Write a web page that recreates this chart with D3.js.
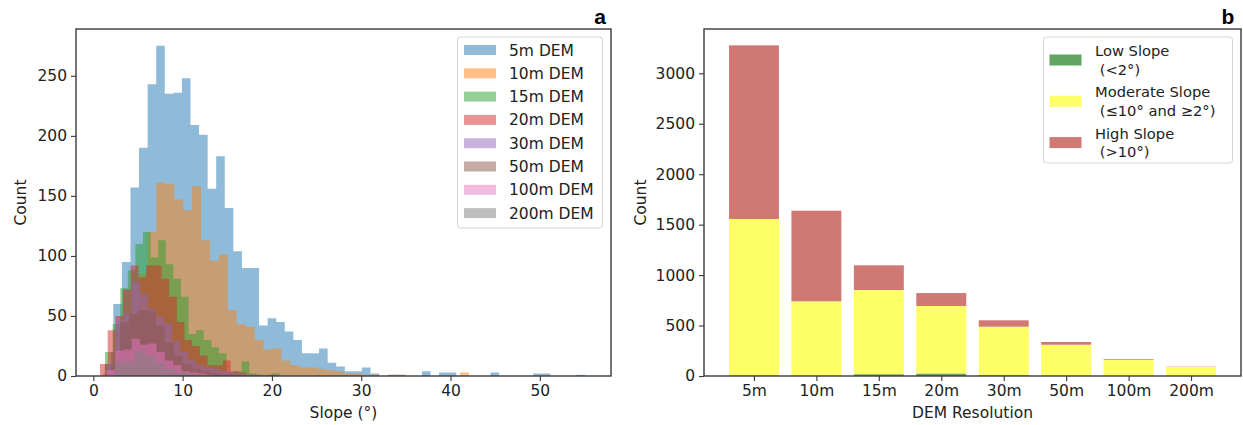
<!DOCTYPE html>
<html>
<head>
<meta charset="utf-8">
<script src="https://cdn.jsdelivr.net/npm/d3@7"></script>
<style>
  html, body { margin: 0; padding: 0; background: #fff; }
  svg { display: block; font-family: "DejaVu Sans", sans-serif; }
</style>
</head>
<body>
<svg id="chart" width="1243" height="425"></svg>
<script>
// ---------------- Data: panel a (histograms) ----------------
const histLabels = ["5m DEM", "10m DEM", "15m DEM", "20m DEM", "30m DEM", "50m DEM", "100m DEM", "200m DEM"];
const binStart = [1.28, 1.06, 1.31, 0.75, 1.64, 2.0, 1.5, 2.43];
const binWidth = [0.96, 1.0, 0.85, 0.86, 0.9, 1.0, 0.93, 1.12];
const counts5m = [10, 60, 95, 157, 190, 243, 275, 235, 236, 248, 209, 201, 156, 183, 140, 104, 90, 90, 42, 48, 45, 37, 30, 19, 19, 23, 11, 8, 4, 4, 7, 2, 0, 1, 1, 0, 0, 4, 0, 3, 3, 0, 0, 0, 0, 3, 0, 0, 0, 0, 2, 2, 0, 0, 0, 1];
const counts10m = [2, 8, 25, 50, 85, 120, 161, 160, 147, 138, 158, 113, 96, 101, 55, 43, 41, 30, 22, 23, 13, 9, 7, 7, 6, 5, 4, 2, 2, 1, 1, 0, 1, 1, 0, 0, 0, 0, 0, 0, 3];
const counts15m = [20, 43, 73, 88, 110, 120, 99, 113, 93, 81, 66, 35, 38, 30, 24, 19, 3, 4, 12, 2, 1, 1, 2];
const counts20m = [10, 38, 50, 72, 92, 82, 92, 92, 81, 66, 45, 30, 25, 17, 9, 9, 13, 4, 3, 1, 1, 0, 1];
const counts30m = [10, 46, 52, 78, 68, 56, 49, 44, 29, 20, 13, 9, 7, 6, 4, 3, 2, 1, 1];
const counts50m = [20, 45, 52, 55, 54, 42, 28, 17, 10, 6, 4, 2, 1, 1];
const counts100m = [5, 21, 22, 31, 26, 27, 20, 13, 9, 4, 3, 2, 1];
const counts200m = [12, 12, 21, 17, 11, 6, 3, 2, 1];
const histCounts = [counts5m, counts10m, counts15m, counts20m, counts30m, counts50m, counts100m, counts200m];
const histXTicks = [0, 10, 20, 30, 40, 50];
const histYTicks = [0, 50, 100, 150, 200, 250];

// ---------------- Data: panel b (stacked bars) ----------------
const resolutions = ["5m", "10m", "15m", "20m", "30m", "50m", "100m", "200m"];
const lowSlope = [5, 4, 18, 25, 8, 3, 1, 1];
const moderateSlope = [1551, 736, 834, 669, 481, 307, 160, 88];
const highSlope = [1721, 898, 245, 128, 63, 27, 7, 3];
const slopeClasses = ["low", "moderate", "high"];
const slopeLegendLines = [["Low Slope", " (<2°)"], ["Moderate Slope", " (≤10° and ≥2°)"], ["High Slope", " (>10°)"]];
const barYTicks = [0, 500, 1000, 1500, 2000, 2500, 3000];

// ---------------- Styles ----------------
const histColors = ["#1f77b4", "#ff7f0e", "#2ca02c", "#d62728", "#9467bd", "#8c564b", "#e377c2", "#7f7f7f"];
const slopeColors = { low: "#62a462", moderate: "#ffff66", high: "#d07874" };
const axisColor = "#3a3a3a";
const textColor = "#222";
const fontSize = 15.5;
const legendBFont = 14.7;

const svg = d3.select("#chart");
svg.append("rect").attr("width", 1243).attr("height", 425).attr("fill", "#fff");

function styleAxis(g) {
  g.selectAll(".domain").remove();
  g.selectAll(".tick line").attr("stroke", axisColor).attr("stroke-width", 1.1);
  g.selectAll(".tick text").attr("fill", textColor).attr("font-size", fontSize).attr("font-family", "DejaVu Sans");
}
function frame(g, x0, x1, y0, y1) {
  g.append("rect").attr("x", x0).attr("y", y0).attr("width", x1 - x0).attr("height", y1 - y0)
    .attr("fill", "none").attr("stroke", axisColor).attr("stroke-width", 1.4);
}

// ================= Panel a =================
const A = { left: 76, right: 611, top: 29, bottom: 376 };
const xA = d3.scaleLinear().domain([-1.94, 57.97]).range([A.left, A.right]);
const yA = d3.scaleLinear().domain([0, 289]).range([A.bottom, A.top]);
const gA = svg.append("g");

const area = d3.area().curve(d3.curveStepAfter)
  .x(d => xA(d[0])).y0(yA(0)).y1(d => yA(d[1]));

histCounts.forEach((counts, i) => {
  const pts = counts.map((c, k) => [binStart[i] + k * binWidth[i], c]);
  pts.push([binStart[i] + counts.length * binWidth[i], counts[counts.length - 1]]);
  gA.append("path").datum(pts).attr("d", area)
    .attr("fill", histColors[i]).attr("fill-opacity", 0.5).attr("stroke", "none");
});

gA.append("g").attr("transform", `translate(0,${A.bottom})`)
  .call(d3.axisBottom(xA).tickValues(histXTicks).tickSize(5).tickPadding(4))
  .call(styleAxis);
gA.append("g").attr("transform", `translate(${A.left},0)`)
  .call(d3.axisLeft(yA).tickValues(histYTicks).tickSize(5).tickPadding(4))
  .call(styleAxis);
frame(gA, A.left, A.right, A.top, A.bottom);

gA.append("text").attr("x", (A.left + A.right) / 2).attr("y", 418).attr("text-anchor", "middle")
  .attr("font-size", fontSize).attr("fill", textColor).text("Slope (°)");
gA.append("text").attr("transform", `translate(26,${(A.top + A.bottom) / 2}) rotate(-90)`)
  .attr("text-anchor", "middle").attr("font-size", fontSize).attr("fill", textColor).text("Count");
gA.append("text").attr("x", 600).attr("y", 24).attr("text-anchor", "middle")
  .attr("font-family", "Liberation Sans, Arial, sans-serif").attr("font-weight", "bold")
  .attr("font-size", 21).attr("fill", "#000").text("a");

// legend a
const legA = gA.append("g");
legA.append("rect").attr("x", 457.5).attr("y", 37).attr("width", 145).attr("height", 191).attr("rx", 3)
  .attr("fill", "#fff").attr("fill-opacity", 0.8).attr("stroke", "#d5d5d5").attr("stroke-width", 1);
histLabels.forEach((lab, i) => {
  const cy = 50 + i * 23.3;
  legA.append("rect").attr("x", 464).attr("y", cy - 5).attr("width", 32).attr("height", 10)
    .attr("fill", histColors[i]).attr("fill-opacity", 0.5);
  legA.append("text").attr("x", 509).attr("y", cy + 5.5).attr("font-size", fontSize)
    .attr("fill", textColor).text(lab);
});

// ================= Panel b =================
const B = { left: 704, right: 1241, top: 29, bottom: 376 };
const xB = d3.scaleLinear().domain([-0.8, 7.8]).range([B.left, B.right]);
const yB = d3.scaleLinear().domain([0, 3439]).range([B.bottom, B.top]);
const gB = svg.append("g");

const table = resolutions.map((r, i) => ({ res: r, idx: i, low: lowSlope[i], moderate: moderateSlope[i], high: highSlope[i] }));
const stacked = d3.stack().keys(slopeClasses)(table);
const barW = 0.8;
stacked.forEach(layer => {
  gB.append("g").selectAll("rect").data(layer).join("rect")
    .attr("x", d => xB(d.data.idx - barW / 2))
    .attr("width", d => xB(d.data.idx + barW / 2) - xB(d.data.idx - barW / 2))
    .attr("y", d => yB(d[1]))
    .attr("height", d => yB(d[0]) - yB(d[1]))
    .attr("fill", slopeColors[layer.key]);
});

gB.append("g").attr("transform", `translate(0,${B.bottom})`)
  .call(d3.axisBottom(xB).tickValues(d3.range(resolutions.length)).tickFormat(i => resolutions[i]).tickSize(5).tickPadding(4))
  .call(styleAxis);
gB.append("g").attr("transform", `translate(${B.left},0)`)
  .call(d3.axisLeft(yB).tickValues(barYTicks).tickFormat(d3.format("d")).tickSize(5).tickPadding(4))
  .call(styleAxis);
frame(gB, B.left, B.right, B.top, B.bottom);

gB.append("text").attr("x", (B.left + B.right) / 2).attr("y", 418).attr("text-anchor", "middle")
  .attr("font-size", fontSize).attr("fill", textColor).text("DEM Resolution");
gB.append("text").attr("transform", `translate(646,${(B.top + B.bottom) / 2}) rotate(-90)`)
  .attr("text-anchor", "middle").attr("font-size", fontSize).attr("fill", textColor).text("Count");
gB.append("text").attr("x", 1228).attr("y", 24).attr("text-anchor", "middle")
  .attr("font-family", "Liberation Sans, Arial, sans-serif").attr("font-weight", "bold")
  .attr("font-size", 21).attr("fill", "#000").text("b");

// legend b
const legB = gB.append("g");
legB.append("rect").attr("x", 1043.5).attr("y", 37).attr("width", 189).attr("height", 126).attr("rx", 3)
  .attr("fill", "#fff").attr("fill-opacity", 0.8).attr("stroke", "#d5d5d5").attr("stroke-width", 1);
slopeClasses.forEach((k, i) => {
  const cy = 60 + i * 41.3;
  legB.append("rect").attr("x", 1049.5).attr("y", cy - 5.5).attr("width", 32).attr("height", 11)
    .attr("fill", slopeColors[k]);
  const t = legB.append("text").attr("font-size", legendBFont).attr("fill", textColor)
    .attr("xml:space", "preserve").style("white-space", "pre");
  slopeLegendLines[i].forEach((line, j) => {
    t.append("tspan").attr("x", 1095).attr("y", cy - 4 + j * 18.7).text(line);
  });
});
</script>
</body>
</html>
